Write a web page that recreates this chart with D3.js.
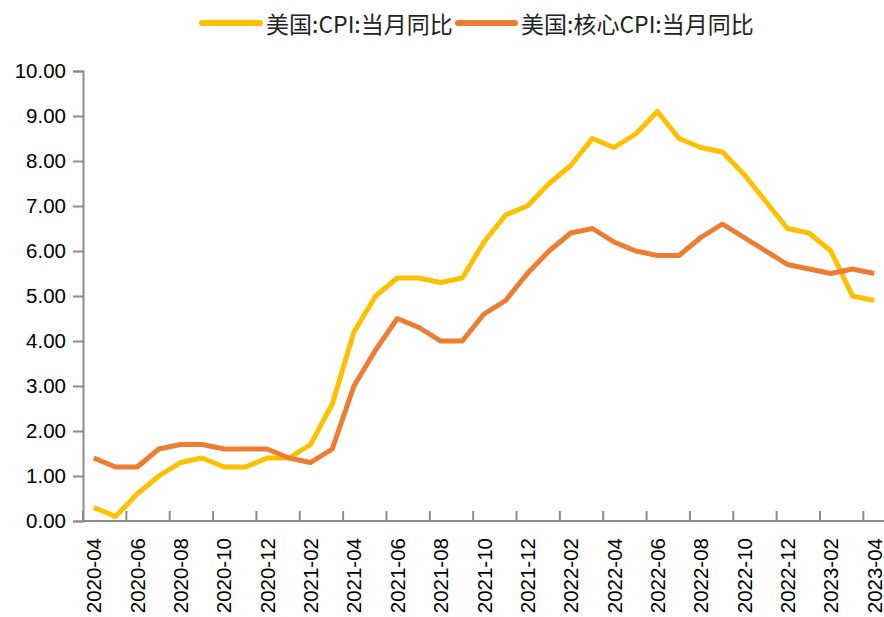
<!DOCTYPE html>
<html><head><meta charset="utf-8">
<script src="https://cdn.jsdelivr.net/npm/d3@7"></script>
<style>body{margin:0;background:#fff;}svg{display:block;}</style>
</head><body>
<svg id="c" width="884" height="617"></svg>
<script>
const months = ["2020-04","2020-05","2020-06","2020-07","2020-08","2020-09","2020-10","2020-11","2020-12",
"2021-01","2021-02","2021-03","2021-04","2021-05","2021-06","2021-07","2021-08","2021-09","2021-10","2021-11","2021-12",
"2022-01","2022-02","2022-03","2022-04","2022-05","2022-06","2022-07","2022-08","2022-09","2022-10","2022-11","2022-12",
"2023-01","2023-02","2023-03","2023-04"];
const cpi = [0.3,0.1,0.6,1.0,1.3,1.4,1.2,1.2,1.4,1.4,1.7,2.6,4.2,5.0,5.4,5.4,5.3,5.4,6.2,6.8,7.0,7.5,7.9,8.5,8.3,8.6,9.1,8.5,8.3,8.2,7.7,7.1,6.5,6.4,6.0,5.0,4.9];
const core = [1.4,1.2,1.2,1.6,1.7,1.7,1.6,1.6,1.6,1.4,1.3,1.6,3.0,3.8,4.5,4.3,4.0,4.0,4.6,4.9,5.5,6.0,6.4,6.5,6.2,6.0,5.9,5.9,6.3,6.6,6.3,6.0,5.7,5.6,5.5,5.6,5.5];
const yTicks = [0,1,2,3,4,5,6,7,8,9,10];
const seriesNames = ["美国:CPI:当月同比","美国:核心CPI:当月同比"];
const colors = ["#FFC000","#ED7D31"];

const svg = d3.select("#c");
const x = d3.scaleBand().domain(months).range([83, 885]);
const y = d3.scaleLinear().domain([0,10]).range([521, 71]);
const axisColor = "#8c8c8c";
const fontLat = "'Liberation Sans', Arial, sans-serif";

// Y axis
const ya = svg.append("g").attr("transform","translate(83,0)")
  .call(d3.axisLeft(y).tickValues(yTicks).tickFormat(d3.format(".2f")).tickSize(10).tickPadding(7));
ya.select(".domain").attr("stroke",axisColor).attr("stroke-width",2);
ya.selectAll(".tick line").attr("stroke",axisColor).attr("stroke-width",2);
ya.selectAll(".tick text").attr("font-family",fontLat).attr("font-size",20.5).attr("fill","#000");

// X axis line
svg.append("line").attr("x1",83).attr("x2",885).attr("y1",521).attr("y2",521)
  .attr("stroke",axisColor).attr("stroke-width",2);
// X ticks at boundaries every 2 months
months.forEach((m,i)=>{
  if(i%2===0){
    const tx = x(m);
    svg.append("line").attr("x1",tx).attr("x2",tx).attr("y1",521).attr("y2",511)
      .attr("stroke",axisColor).attr("stroke-width",2);
    svg.append("text")
      .attr("transform",`translate(${tx + x.bandwidth()/2},538) rotate(-90)`)
      .attr("text-anchor","end").attr("dominant-baseline","central")
      .attr("font-family",fontLat).attr("font-size",20.5).attr("fill","#000")
      .text(m);
  }
});

// Lines
const line = d3.line().x((d,i)=>x(months[i])+x.bandwidth()/2).y(d=>y(d));
[cpi, core].forEach((s,k)=>{
  svg.append("path").datum(s).attr("d",line).attr("fill","none")
    .attr("stroke",colors[k]).attr("stroke-width",5).attr("stroke-linejoin","round");
});

// Legend
const legend = [{x1:202,x2:260,tx:266},{x1:458,x2:515,tx:521}];
legend.forEach((l,k)=>{
  svg.append("line").attr("x1",l.x1).attr("x2",l.x2).attr("y1",23).attr("y2",23)
    .attr("stroke",colors[k]).attr("stroke-width",6).attr("stroke-linecap","round");
  svg.append("text").attr("x",l.tx).attr("y",23).attr("dominant-baseline","central")
    .attr("font-family","'Noto Sans CJK SC', sans-serif").attr("font-size",23).attr("fill","#222")
    .text(seriesNames[k]);
});
</script>
</body></html>
